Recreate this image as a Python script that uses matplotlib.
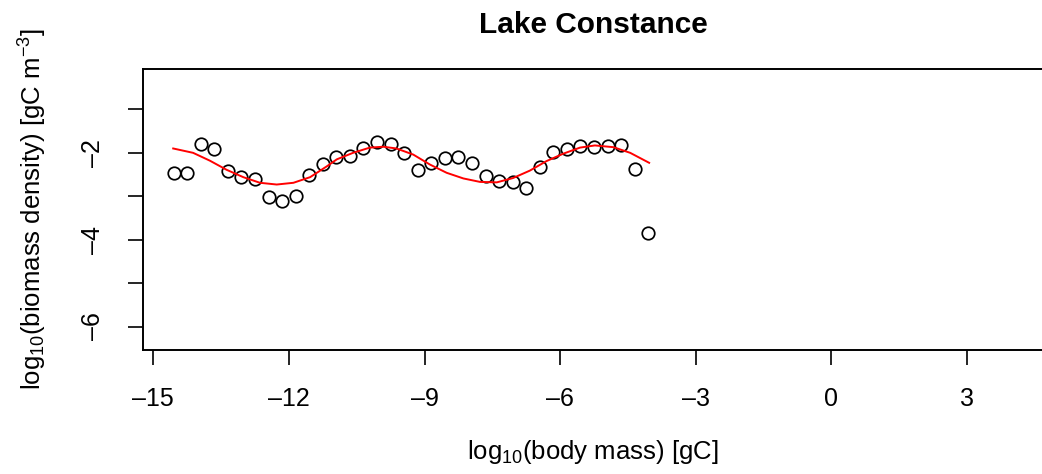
# Lake Constance biomass size spectrum

# Importing the libraries
import numpy as np
import matplotlib.pyplot as plt

plt.rcParams['font.family'] = ['Liberation Sans', 'DejaVu Sans']
plt.rcParams['mathtext.fontset'] = 'custom'
plt.rcParams['mathtext.rm'] = 'Liberation Sans'
plt.rcParams['mathtext.it'] = 'Liberation Sans:italic'
plt.rcParams['mathtext.bf'] = 'Liberation Sans:bold'

# observed size classes (log10 body mass) and biomass densities
body_mass = [-14.55, -14.25, -13.95, -13.65, -13.35, -13.05, -12.75, -12.45,
             -12.15, -11.85, -11.55, -11.25, -10.95, -10.65, -10.35, -10.05,
             -9.75, -9.45, -9.15, -8.85, -8.55, -8.25, -7.95, -7.65,
             -7.35, -7.05, -6.75, -6.45, -6.15, -5.85, -5.55, -5.25,
             -4.95, -4.65, -4.35, -4.05]
biomass = [-2.46, -2.46, -1.80, -1.92, -2.41, -2.56, -2.60, -3.02,
           -3.10, -2.99, -2.50, -2.26, -2.09, -2.08, -1.89, -1.75,
           -1.79, -2.00, -2.39, -2.23, -2.13, -2.09, -2.23, -2.53,
           -2.66, -2.68, -2.82, -2.32, -1.99, -1.92, -1.85, -1.86,
           -1.84, -1.81, -2.37, -3.84]

# fitted curve (red line)
fit_x = [-14.56, -14.12, -13.75, -13.38, -13.01, -12.64, -12.27, -11.90,
         -11.53, -11.16, -10.94, -10.58, -10.21, -9.91, -9.62, -9.25,
         -8.88, -8.51, -8.14, -7.77, -7.40, -7.04, -6.67, -6.30,
         -5.93, -5.56, -5.23, -4.82, -4.45, -4.03]
fit_y = [-1.90, -2.00, -2.18, -2.39, -2.56, -2.69, -2.73, -2.69,
         -2.56, -2.31, -2.15, -2.00, -1.88, -1.86, -1.90, -2.04,
         -2.27, -2.46, -2.59, -2.67, -2.68, -2.58, -2.41, -2.19,
         -2.02, -1.88, -1.83, -1.87, -2.00, -2.23]

x_ticks = [-15, -12, -9, -6, -3, 0, 3]
y_ticks = [-1, -2, -3, -4, -5, -6]

W, H = 1042, 474
fig = plt.figure(figsize=(W / 100, H / 100), dpi=100)
# axes box in pixels: left 143, top 69, bottom 350, right edge off the picture
ax = fig.add_axes([143 / W, (H - 350) / H, (1046 - 143) / W, (350 - 69) / H])

ax.plot(body_mass, biomass, 'o', mfc='none', mec='black', ms=9, mew=1.25)
ax.plot(fit_x, fit_y, color='red', lw=1.4)

ax.set_xlim(-15.228, -15.228 + (1046 - 143) / 45.2)
ax.set_ylim(-6.54, -0.07)

ax.set_xticks(x_ticks)
ax.set_xticklabels([str(t).replace('-', '\u2013') for t in x_ticks])
ax.set_yticks(y_ticks)
ax.set_yticklabels(['', '\u20132', '', '\u20134', '', '\u20136'])

ax.tick_params(axis='both', direction='out', length=11, width=1.2,
               labelsize=18, pad=16)
ax.tick_params(axis='y', labelrotation=90)
for lbl in ax.get_yticklabels():
    lbl.set_va('center')

for side in ['left', 'bottom', 'top']:
    ax.spines[side].set_linewidth(1.4)
ax.spines['right'].set_visible(False)

fig.text(593 / W, 1 - 25 / H, 'Lake Constance', ha='center', va='center',
         fontsize=21.5, fontweight='bold')
fig.text(593 / W, 1 - 452 / H, r'log$_{10}$(body mass) [gC]', ha='center',
         va='center', fontsize=18.5)
fig.text(33 / W, 1 - 209 / H, r'log$_{10}$(biomass density) [gC m$^{-3}$]',
         ha='center', va='center', rotation=90, fontsize=18.5)

fig.savefig('out.png', dpi=100)
